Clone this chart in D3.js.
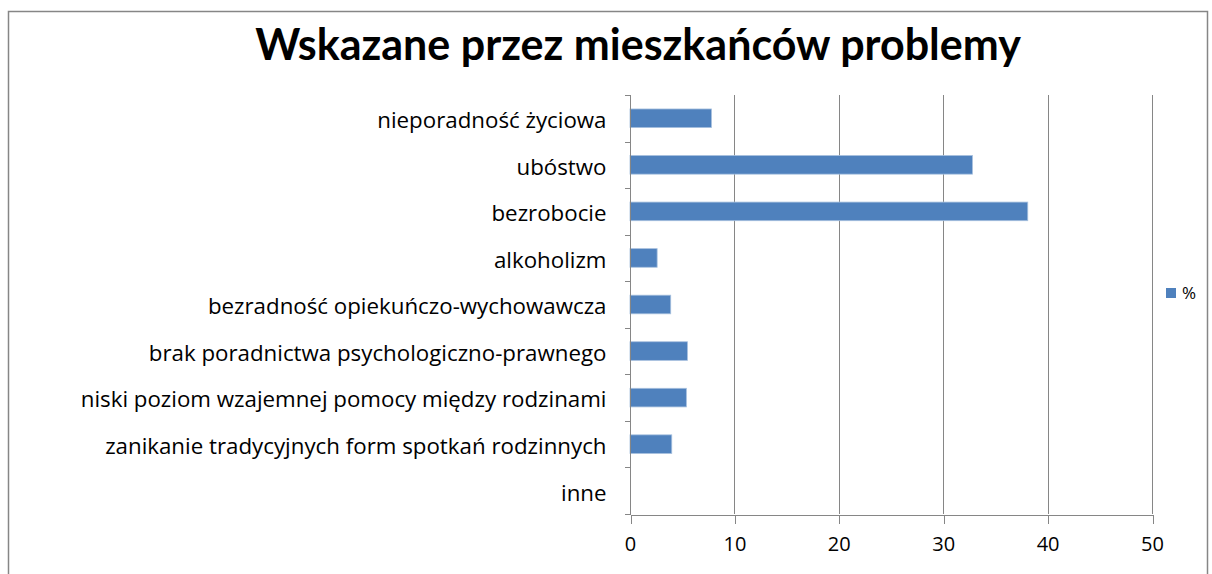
<!DOCTYPE html>
<meta charset="utf-8">
<script src="https://cdn.jsdelivr.net/npm/d3@7"></script>
<style>
body { margin: 0; background: #fff; }
text { font-family: "Open Sans", Lato, sans-serif; fill: #000; }
.grid line { stroke: #868686; stroke-width: 1; }
.axis path, .axis line { stroke: #868686; fill: none; shape-rendering: crispEdges; }
.axis text { font-size: 20px; font-family: "Open Sans", sans-serif; }
</style>
<body>
<script>

// data
var categories = [
  "nieporadność życiowa",
  "ubóstwo",
  "bezrobocie",
  "alkoholizm",
  "bezradność opiekuńczo-wychowawcza",
  "brak poradnictwa psychologiczno-prawnego",
  "niski poziom wzajemnej pomocy między rodzinami",
  "zanikanie tradycyjnych form spotkań rodzinnych",
  "inne"
];
var values = [7.8, 32.8, 38.1, 2.6, 3.9, 5.5, 5.4, 4.0, 0];
var xTicks = [0, 10, 20, 30, 40, 50];
var seriesName = "%";
var title = "Wskazane przez mieszkańców problemy";

var W = 1212, H = 574;
var plot = {left: 630, right: 1152, top: 95, bottom: 514};

var svg = d3.select("body").append("svg")
    .attr("width", W)
    .attr("height", H);

// chart border
svg.append("rect")
    .attr("x", 8.5).attr("y", 11.5)
    .attr("width", 1199).attr("height", 580)
    .attr("fill", "none")
    .attr("stroke", "#868686")
    .attr("stroke-width", 1.5);

var x = d3.scaleLinear().domain([0, 50]).range([plot.left, plot.right]);
var y = d3.scaleBand().domain(categories).range([plot.top, plot.bottom]).paddingInner(0.6).paddingOuter(0.3);
var yStep = (plot.bottom - plot.top) / categories.length;

// vertical gridlines
svg.append("g").attr("class", "grid")
    .selectAll("line")
    .data(xTicks.slice(1))
    .enter().append("line")
    .attr("x1", function(d) { return Math.round(x(d)) + 0.5; })
    .attr("x2", function(d) { return Math.round(x(d)) + 0.5; })
    .attr("y1", plot.top)
    .attr("y2", plot.bottom);

// bars
svg.append("g")
    .selectAll("rect")
    .data(values)
    .enter().append("rect")
    .filter(function(d) { return d > 0; })
    .attr("x", x(0))
    .attr("y", function(d, i) { return y(categories[i]); })
    .attr("width", function(d) { return x(d) - x(0); })
    .attr("height", y.bandwidth())
    .attr("fill", "#4f81bd")
    .attr("stroke", "#a7c0de")
    .attr("stroke-width", 0.8);

// x axis
var xAxis = svg.append("g")
    .attr("class", "axis")
    .attr("transform", "translate(0," + (plot.bottom + 0.5) + ")")
    .call(d3.axisBottom(x).tickValues(xTicks).tickSize(9).tickSizeOuter(0).tickPadding(13));
xAxis.selectAll(".tick line").attr("transform", "translate(0.5,0)");
xAxis.selectAll("text").attr("fill", "#000");

// y axis, ticks between categories
var yAxis = svg.append("g")
    .attr("class", "axis")
    .attr("transform", "translate(" + (plot.left + 0.5) + ",0)");
yAxis.append("line")
    .attr("y1", plot.top).attr("y2", plot.bottom);
yAxis.selectAll(".tk")
    .data(d3.range(categories.length + 1))
    .enter().append("line")
    .attr("class", "tk")
    .attr("x1", -6).attr("x2", 0)
    .attr("y1", function(i) { return Math.round(plot.top + i * yStep) + 0.5; })
    .attr("y2", function(i) { return Math.round(plot.top + i * yStep) + 0.5; });
yAxis.selectAll("text")
    .data(categories)
    .enter().append("text")
    .attr("x", -24)
    .attr("y", function(d) { return y(d) + y.bandwidth() / 2 + 2; })
    .attr("dy", "0.35em")
    .attr("text-anchor", "end")
    .style("font-size", "22.3px")
    .text(function(d) { return d; });

// legend
svg.append("rect")
    .attr("x", 1166).attr("y", 288)
    .attr("width", 10).attr("height", 10)
    .attr("fill", "#4f81bd");
svg.append("text")
    .attr("x", 1182).attr("y", 293)
    .attr("dy", "0.35em")
    .style("font-size", "17px")
    .text(seriesName);

// title
svg.append("text")
    .attr("x", 638).attr("y", 60)
    .attr("text-anchor", "middle")
    .style("font-family", "Lato, sans-serif")
    .style("font-size", "43px")
    .style("font-weight", "bold")
    .text(title);

</script>
</body>
